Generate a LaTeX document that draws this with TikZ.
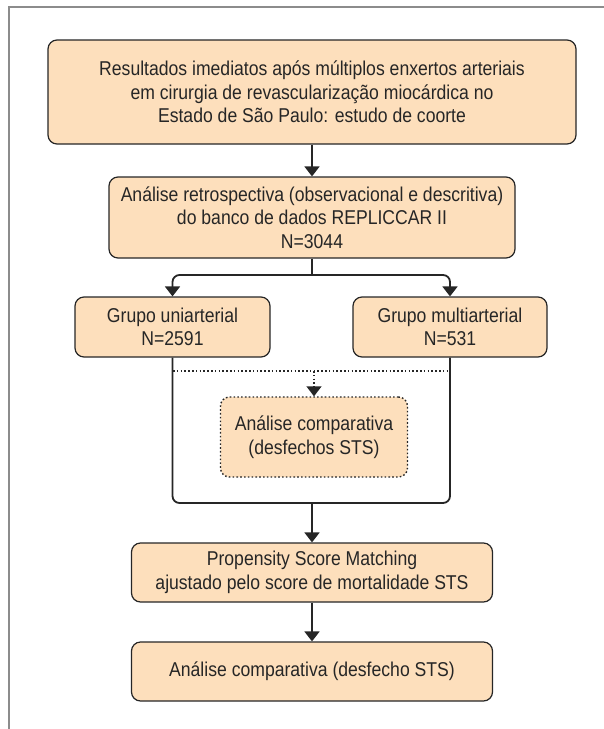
\documentclass[tikz,border=0pt]{standalone}
\usepackage{fontspec}
\setmainfont{Liberation Sans}[FakeStretch=0.88]
\usetikzlibrary{arrows.meta}
\definecolor{peach}{HTML}{FDDFBC}
\definecolor{edgec}{HTML}{262626}
\definecolor{framec}{HTML}{8C8C8C}
\begin{document}
\begin{tikzpicture}[x=1pt,y=-1pt,
  box/.style={draw=edgec, fill=peach, rounded corners=9pt, line width=1.2pt, inner sep=0pt,
    align=center, font=\fontsize{20}{23.5}\selectfont, text=edgec},
  conn/.style={draw=edgec, line width=1.8pt},
  arr/.style={conn, -{Triangle[length=10pt,width=15pt]}},
  dotline/.style={draw=edgec, line width=1.4pt, dash pattern=on 1.6pt off 2.2pt},
  dotarr/.style={dotline, -{Triangle[length=10pt,width=15pt]}}]
\useasboundingbox (0,0) rectangle (604,729);
\draw[framec, line width=1.3pt] (9,729) -- (9,7) -- (604,7);

\node[box, minimum width=528pt, minimum height=104pt] (b1) at (312,92)
  {Resultados imediatos após múltiplos enxertos arteriais\\em cirurgia de revascularização miocárdica no\\Estado de São Paulo: estudo de coorte};
\node[box, minimum width=406pt, minimum height=81pt] (b2) at (312,217.5)
  {Análise retrospectiva (observacional e descritiva)\\do banco de dados REPLICCAR II\\N=3044};
\node[box, minimum width=195pt, minimum height=60pt] (g1) at (172.5,327)
  {Grupo uniarterial\\N=2591};
\node[box, minimum width=194pt, minimum height=60pt] (g2) at (450,327)
  {Grupo multiarterial\\N=531};
\node[box, dotline, fill=peach, minimum width=187pt, minimum height=80pt] (d) at (314,437)
  {Análise comparativa\\(desfechos STS)};
\node[box, minimum width=361pt, minimum height=59pt] (p) at (312,572.5)
  {Propensity Score Matching\\ajustado pelo score de mortalidade STS};
\node[box, minimum width=361pt, minimum height=59pt] (l) at (312,671.5)
  {Análise comparativa (desfecho STS)};

\coordinate (split) at (312,275);
\coordinate (merge) at (312,503);
\coordinate (dl) at (173,371);
\coordinate (dr) at (450,371);
\coordinate (dm) at (314,371);

\draw[arr] (b1.south) -- (b1.south |- b2.north);
\draw[conn] (b2.south) -- (split);
\draw[arr, rounded corners=7pt] (split) -| (g1.north);
\draw[arr, rounded corners=7pt] (split) -| (g2.north);
\draw[conn, rounded corners=7pt] (g1.south) |- (merge);
\draw[conn, rounded corners=7pt] (g2.south) |- (merge);
\draw[arr] (merge) -- (merge |- p.north);
\draw[arr] (p.south) -- (p.south |- l.north);
\draw[dotline] (dl) -- (dr);
\draw[dotarr] (dm) -- (d.north);
\end{tikzpicture}
\end{document}
